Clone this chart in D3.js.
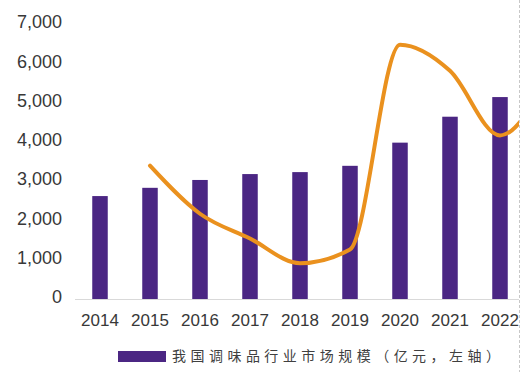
<!DOCTYPE html>
<html>
<head>
<meta charset="utf-8">
<script src="https://cdn.jsdelivr.net/npm/d3@7"></script>
<style>
  html, body { margin: 0; padding: 0; background: #fff; }
  svg { display: block; }
</style>
</head>
<body>
<svg id="chart" width="525" height="372"></svg>
<script>
// ---- data ----
const years = ["2014","2015","2016","2017","2018","2019","2020","2021","2022","2023"];
const barYears = ["2014","2015","2016","2017","2018","2019","2020","2021","2022"];
const marketSize = [2620, 2830, 3030, 3180, 3230, 3390, 3980, 4640, 5140]; // 亿元, left axis
const lineYears = ["2015","2016","2017","2018","2019","2020","2021","2022","2023"];
const lineValues = [9.7, 6.2, 4.4, 2.6, 3.6, 18.5, 16.6, 11.9, 16.6]; // right axis (hidden)
const yTicks = [0, 1000, 2000, 3000, 4000, 5000, 6000, 7000];
const legendLabel = "我国调味品行业市场规模（亿元，左轴）";

(function () {
// ---- layout ----
const svg = d3.select("#chart");
const W = 525, H = 372;
const mLeft = 75, mBottom = 299, mTop = 24, clipRight = 519;
const step = 50;

const x = d3.scaleBand()
  .domain(years)
  .range([mLeft, mLeft + step * years.length])
  .paddingInner(0.69)
  .paddingOuter(0.345);

const y = d3.scaleLinear().domain([0, 7000]).range([mBottom, mTop]);
const yR = d3.scaleLinear().domain([0, 20]).range([mBottom, mTop]);

svg.append("defs").append("clipPath").attr("id", "plotclip")
  .append("rect").attr("x", 0).attr("y", 0).attr("width", clipRight).attr("height", H);

const g = svg.append("g").attr("clip-path", "url(#plotclip)");

// baseline
g.append("line")
  .attr("x1", mLeft).attr("x2", clipRight)
  .attr("y1", mBottom + 0.5).attr("y2", mBottom + 0.5)
  .attr("stroke", "#d9d9d9").attr("stroke-width", 1);

// bars
g.selectAll("rect.bar")
  .data(barYears.map((yr, i) => ({ yr, v: marketSize[i] })))
  .join("rect")
  .attr("class", "bar")
  .attr("x", d => x(d.yr))
  .attr("width", x.bandwidth())
  .attr("y", d => y(d.v))
  .attr("height", d => y(0) - y(d.v))
  .attr("fill", "#4b2683");

// line
const line = d3.line()
  .x(d => x(d.yr) + x.bandwidth() / 2)
  .y(d => yR(d.v))
  .curve(d3.curveMonotoneX);

g.append("path")
  .datum(lineYears.map((yr, i) => ({ yr, v: lineValues[i] })))
  .attr("d", line)
  .attr("fill", "none")
  .attr("stroke", "#ea911e")
  .attr("stroke-width", 4)
  .attr("stroke-linecap", "round")
  .attr("stroke-linejoin", "round");

// y axis labels
const yAxis = d3.axisLeft(y).tickValues(yTicks).tickSize(0).tickPadding(0)
  .tickFormat(d3.format(","));
const ya = svg.append("g").attr("transform", `translate(62,-2)`).call(yAxis);
ya.select(".domain").remove();
ya.selectAll("text")
  .attr("font-family", "'Liberation Sans', Arial, sans-serif")
  .attr("font-size", 18)
  .attr("fill", "#383838");

// x axis labels
const xAxis = d3.axisBottom(x).tickSize(0).tickPadding(0);
const xa = svg.append("g").attr("transform", `translate(0,${mBottom + 15})`).call(xAxis);
xa.select(".domain").remove();
xa.selectAll("text")
  .attr("font-family", "'Liberation Sans', Arial, sans-serif")
  .attr("font-size", 17)
  .attr("fill", "#383838");
xa.selectAll(".tick").filter(d => !barYears.includes(d)).remove();

// legend
svg.append("rect")
  .attr("x", 118).attr("y", 351).attr("width", 48).attr("height", 11)
  .attr("fill", "#4b2683");
svg.append("text")
  .attr("x", 172).attr("y", 361)
  .attr("font-family", "'Noto Sans CJK SC', sans-serif")
  .attr("font-size", 14)
  .attr("fill", "#404040")
  .attr("textLength", 328)
  .attr("lengthAdjust", "spacing")
  .text(legendLabel);

// right dashed border
svg.append("line")
  .attr("x1", clipRight + 0.5).attr("x2", clipRight + 0.5)
  .attr("y1", 0).attr("y2", H)
  .attr("stroke", "#c8c8c8").attr("stroke-width", 1)
  .attr("stroke-dasharray", "3,2");
})();
</script>
</body>
</html>
